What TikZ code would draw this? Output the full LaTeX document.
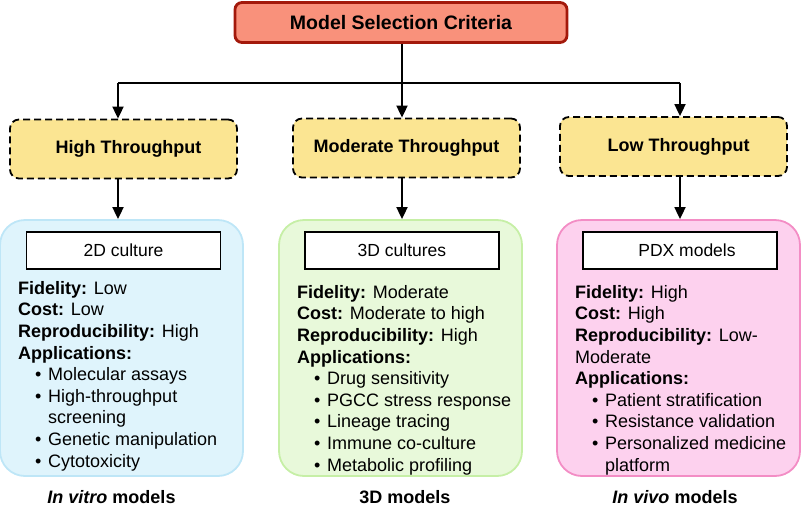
\documentclass[tikz,border=0pt]{standalone}
\usepackage{fontspec}
\setmainfont{Liberation Sans}
\usetikzlibrary{arrows.meta}

\definecolor{titlefill}{HTML}{F9917B}
\definecolor{titledraw}{HTML}{A3190B}
\definecolor{tpfill}{HTML}{FBE592}
\definecolor{bluefill}{HTML}{DFF4FC}
\definecolor{bluedraw}{HTML}{BEE6F7}
\definecolor{greenfill}{HTML}{E8F9DA}
\definecolor{greendraw}{HTML}{C6EFA6}
\definecolor{pinkfill}{HTML}{FDD1EE}
\definecolor{pinkdraw}{HTML}{F38DC5}

% bullet entry and its continuation line
\newcommand{\bulitem}{\hspace*{17pt}\makebox[13pt][l]{\textbullet}}
\newcommand{\contline}{\hspace*{30pt}}

\tikzset{
  titlebox/.style={draw=titledraw, fill=titlefill, line width=2.8pt,
    rounded corners=7pt, minimum width=332pt, minimum height=40pt,
    inner sep=0pt, font=\fontsize{19.5}{22}\selectfont\bfseries},
  tpbox/.style={draw=black, fill=tpfill, line width=1.8pt,
    dash pattern=on 7pt off 4pt, rounded corners=9pt,
    minimum width=227pt, minimum height=59pt, inner sep=0pt,
    font=\fontsize{18}{21}\selectfont\bfseries},
  modelbox/.style={line width=1.8pt, rounded corners=25pt,
    minimum width=243pt, minimum height=256pt, inner sep=0pt},
  namebox/.style={draw=black, fill=white, line width=1.8pt,
    minimum width=194pt, minimum height=37pt, inner sep=0pt,
    font=\fontsize{17.5}{20}\selectfont},
  infotext/.style={anchor=north west, align=left, inner sep=0pt,
    font=\fontsize{18}{21.6}\selectfont},
  caption/.style={inner sep=0pt, font=\fontsize{18}{21}\selectfont\bfseries},
  conn/.style={line width=1.8pt},
  arr/.style={conn, -{Triangle[length=12pt,width=11pt]}},
}

\begin{document}
\begin{tikzpicture}[x=1pt,y=-1pt]
\useasboundingbox (0,0) rectangle (801,509);

% criteria box and branching line
\node[titlebox] (title) at (401,22.5) {Model Selection Criteria};
\coordinate (split) at (402,83);
\coordinate (jl) at (118,83);
\coordinate (jm) at (402,83);
\coordinate (jr) at (680,83);

% throughput levels
\node[tpbox] (high) at (123.5,149) {\hspace*{10pt}High Throughput};
\node[tpbox] (mod)  at (406.5,148) {Moderate Throughput};
\node[tpbox] (low)  at (673.5,146.5) {\hspace*{10pt}Low Throughput};

% model families
\node[modelbox, draw=bluedraw, fill=bluefill]   (vitro) at (121.5,348) {};
\node[modelbox, draw=greendraw, fill=greenfill] (threed) at (400.5,348) {};
\node[modelbox, draw=pinkdraw, fill=pinkfill]   (vivo) at (678.5,348) {};

\node[namebox] (n2d) at (123.5,250.5) {2D culture};
\node[namebox] (n3d) at (402,250.5) {3D cultures};
\node[namebox] (npdx) at (680,250.5) {\hspace*{14pt}PDX models};

\node[infotext] (t2d) at (18,281) {%
  \textbf{Fidelity:} Low\\
  \textbf{Cost:} Low\\
  \textbf{Reproducibility:} High\\
  \textbf{Applications:}\\
  \bulitem Molecular assays\\
  \bulitem High-throughput\\
  \contline screening\\
  \bulitem Genetic manipulation\\
  \bulitem Cytotoxicity};

\node[infotext] (t3d) at (297,285) {%
  \textbf{Fidelity:} Moderate\\
  \textbf{Cost:} Moderate to high\\
  \textbf{Reproducibility:} High\\
  \textbf{Applications:}\\
  \bulitem Drug sensitivity\\
  \bulitem PGCC stress response\\
  \bulitem Lineage tracing\\
  \bulitem Immune co-culture\\
  \bulitem Metabolic profiling};

\node[infotext] (tpdx) at (575,285) {%
  \textbf{Fidelity:} High\\
  \textbf{Cost:} High\\
  \textbf{Reproducibility:} Low-\\
  Moderate\\
  \textbf{Applications:}\\
  \bulitem Patient stratification\\
  \bulitem Resistance validation\\
  \bulitem Personalized medicine\\
  \contline platform};

% captions
\node[caption] (cvitro) at (111.5,497) {\textit{In vitro} models};
\node[caption] (c3d) at (405,497) {3D models};
\node[caption] (cvivo) at (675,497) {\textit{In vivo} models};

% connectors
\draw[conn] (title.south -| split) -- (split);
\draw[conn] (jl) -- (jr);
\draw[arr] (jl) -- (jl |- high.north);
\draw[arr] (jm) -- (jm |- mod.north);
\draw[arr] (jr) -- (jr |- low.north);
\draw[arr] (jl |- high.south) -- (jl |- vitro.north);
\draw[arr] (jm |- mod.south) -- (jm |- threed.north);
\draw[arr] (jr |- low.south) -- (jr |- vivo.north);
\end{tikzpicture}
\end{document}
